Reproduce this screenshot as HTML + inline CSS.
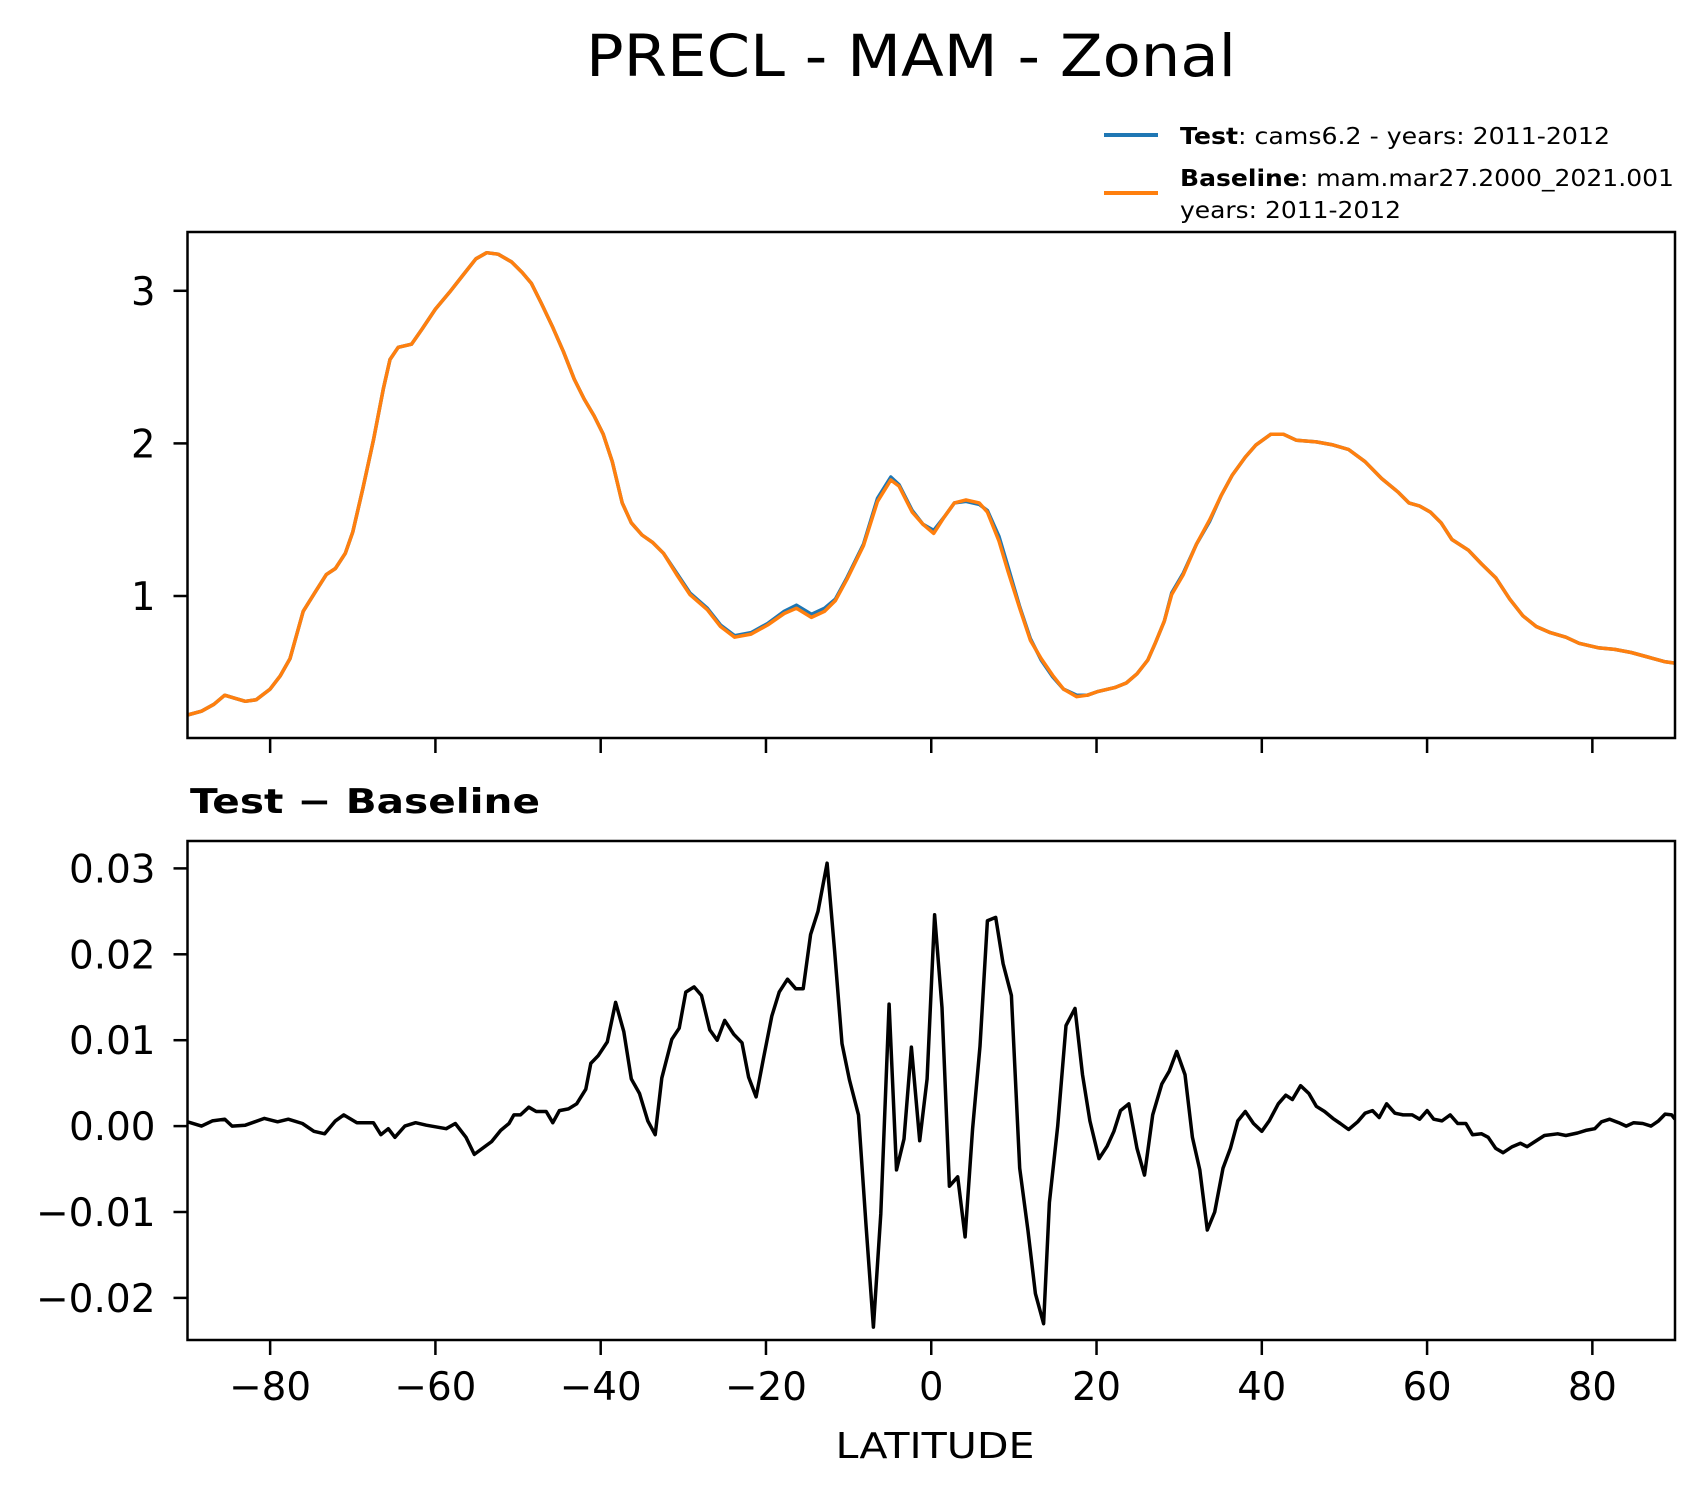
<!DOCTYPE html>
<html><head><meta charset="utf-8"><style>
html,body{margin:0;padding:0;background:#fff;}
svg{display:block;font-family:"DejaVu Sans","Liberation Sans",sans-serif;}
</style></head><body>
<svg id="fig" width="1704" height="1496" viewBox="0 0 1704 1496">
<rect x="0" y="0" width="1704" height="1496" fill="#fff"/>
<text x="911" y="76" font-size="58" text-anchor="middle" textLength="650" lengthAdjust="spacingAndGlyphs">PRECL - MAM - Zonal</text>
<g>
<line x1="1104" y1="135" x2="1158" y2="135" stroke="#1f77b4" stroke-width="4"/>
<text x="1180" y="144" font-size="23" textLength="430" lengthAdjust="spacingAndGlyphs"><tspan font-weight="bold">Test</tspan>: cams6.2 - years: 2011-2012</text>
<line x1="1104" y1="193" x2="1158" y2="193" stroke="#ff7f0e" stroke-width="4"/>
<text x="1180" y="186" font-size="23" textLength="494" lengthAdjust="spacingAndGlyphs"><tspan font-weight="bold">Baseline</tspan>: mam.mar27.2000_2021.001</text>
<text x="1180" y="218" font-size="23" textLength="221" lengthAdjust="spacingAndGlyphs">years: 2011-2012</text>
</g>
<g id="top"></g>
<g id="bot"></g>
<text x="190" y="813" font-size="34" font-weight="bold" textLength="350" lengthAdjust="spacingAndGlyphs">Test − Baseline</text>
<text x="935" y="1458" font-size="36" text-anchor="middle" textLength="199" lengthAdjust="spacingAndGlyphs">LATITUDE</text>
</svg>
<script>
const baseLat=[-90,-88.3,-86.8,-85.5,-84.3,-83,-81.7,-80,-78.8,-77.6,-76,-74.5,-73.2,-72.1,-70.9,-70,-68.8,-67.5,-66.3,-65.5,-64.5,-62.9,-61.6,-60,-58.3,-56.7,-55.1,-53.8,-52.4,-50.8,-49.5,-48.4,-47.2,-45.8,-44.5,-43.2,-42,-40.8,-39.7,-38.6,-37.4,-36.3,-35,-33.7,-32.4,-30.8,-29.2,-27.1,-25.5,-23.8,-21.8,-19.8,-17.8,-16.3,-14.5,-12.9,-11.6,-10.2,-8.2,-6.5,-4.9,-3.9,-2.3,-1,0.3,1.6,2.8,4.2,5.8,6.8,8.2,9.3,10.7,12,13.3,14.7,16,17.6,18.9,20.2,22.2,23.6,24.9,26.2,27.1,28.2,29.1,30.5,32.1,33.7,35.1,36.4,38,39.3,41.1,42.6,44.2,46.6,48.6,50.5,52.5,54.5,56.5,57.8,59.1,60.4,61.7,63,65,66.6,68.3,70,71.6,73.2,74.9,76.8,78.4,80.8,82.7,84.7,86.7,88.7,90];
const baseVal=[0.22,0.245,0.29,0.35,0.33,0.31,0.32,0.39,0.475,0.59,0.9,1.03,1.14,1.18,1.28,1.42,1.7,2.02,2.36,2.55,2.63,2.65,2.75,2.88,2.99,3.1,3.21,3.25,3.24,3.19,3.12,3.05,2.92,2.76,2.6,2.42,2.29,2.18,2.06,1.88,1.61,1.48,1.4,1.35,1.28,1.14,1.01,0.91,0.8,0.73,0.75,0.81,0.885,0.92,0.86,0.9,0.97,1.11,1.33,1.62,1.76,1.72,1.55,1.47,1.41,1.52,1.61,1.63,1.61,1.55,1.36,1.16,0.92,0.71,0.59,0.48,0.39,0.34,0.35,0.375,0.4,0.43,0.49,0.58,0.69,0.835,1.01,1.14,1.34,1.5,1.66,1.79,1.91,1.99,2.06,2.06,2.02,2.01,1.99,1.96,1.88,1.77,1.68,1.61,1.59,1.55,1.48,1.37,1.3,1.21,1.12,0.98,0.87,0.8,0.76,0.73,0.69,0.66,0.65,0.63,0.6,0.57,0.56];
const testVal=[0.22,0.245,0.29,0.35,0.33,0.31,0.32,0.39,0.475,0.59,0.9,1.03,1.14,1.18,1.28,1.42,1.7,2.02,2.36,2.55,2.63,2.65,2.75,2.88,2.99,3.1,3.21,3.25,3.24,3.19,3.12,3.05,2.92,2.76,2.6,2.42,2.29,2.18,2.06,1.88,1.61,1.48,1.4,1.35,1.28,1.15,1.02,0.92,0.81,0.74,0.76,0.82,0.9,0.94,0.88,0.92,0.98,1.12,1.34,1.64,1.78,1.73,1.56,1.47,1.43,1.52,1.61,1.62,1.6,1.56,1.39,1.19,0.93,0.72,0.58,0.47,0.39,0.35,0.35,0.375,0.4,0.43,0.49,0.58,0.69,0.835,1.02,1.15,1.34,1.49,1.66,1.79,1.91,1.99,2.06,2.06,2.02,2.01,1.99,1.96,1.88,1.77,1.68,1.61,1.59,1.55,1.48,1.37,1.3,1.21,1.12,0.98,0.87,0.8,0.76,0.73,0.69,0.66,0.65,0.63,0.6,0.57,0.56];
const diffLat=[-90,-88.3,-87,-85.5,-84.6,-83,-80.7,-79.1,-77.8,-76.1,-74.7,-73.4,-72.1,-71.1,-69.5,-67.5,-66.6,-65.7,-64.9,-63.7,-62.4,-61.1,-58.7,-57.6,-56.3,-55.3,-53.2,-52.1,-51.1,-50.5,-49.7,-48.7,-47.8,-46.6,-45.8,-45,-43.9,-42.9,-41.8,-41.2,-40.3,-39.2,-38.2,-37.2,-36.3,-35.3,-34.3,-33.4,-32.6,-31.4,-30.5,-29.7,-28.7,-27.8,-26.8,-25.9,-25,-23.9,-22.9,-22.1,-21.2,-20.3,-19.3,-18.4,-17.4,-16.4,-15.5,-14.6,-13.7,-12.6,-11.7,-10.8,-9.9,-8.8,-7.9,-7,-6.1,-5.1,-4.2,-3.3,-2.4,-1.4,-0.5,0.4,1.3,2.2,3.2,4.1,5,5.9,6.8,7.8,8.7,9.7,10.7,11.7,12.6,13.6,14.3,15.3,16.3,17.4,18.3,19.2,20.3,21.3,22.1,22.9,23.9,24.9,25.8,26.8,27.9,28.8,29.7,30.7,31.6,32.5,33.4,34.3,35.3,36.2,37.1,38,39,40,40.9,42,42.9,43.7,44.7,45.7,46.6,47.6,48.6,49.5,50.5,51.6,52.5,53.4,54.2,55.1,56.1,57.1,58.2,59.1,60,60.8,61.8,62.8,63.7,64.7,65.5,66.6,67.4,68.3,69.2,70.3,71.3,72.1,72.9,74.2,75.8,76.8,78.2,79.2,80.3,81.1,82.1,83.2,84.1,85,86.1,87.1,88,88.8,89.6,90];
const diffVal=[0.0005,0,0.0006,0.0008,0,0.0001,0.0009,0.0005,0.0008,0.0003,-0.0006,-0.0009,0.0006,0.0013,0.0004,0.0004,-0.001,-0.0003,-0.0013,0,0.0004,0.0001,-0.0003,0.0003,-0.0013,-0.0033,-0.0018,-0.0005,0.0003,0.0013,0.0013,0.0022,0.0017,0.0017,0.0004,0.0018,0.002,0.0026,0.0043,0.0073,0.0082,0.0098,0.0144,0.011,0.0055,0.0038,0.0006,-0.001,0.0056,0.0101,0.0114,0.0156,0.0162,0.0152,0.0112,0.01,0.0123,0.0107,0.0097,0.0057,0.0034,0.0079,0.0128,0.0156,0.0171,0.016,0.016,0.0223,0.025,0.0306,0.0204,0.0096,0.0054,0.0013,-0.0115,-0.0234,-0.0102,0.0142,-0.0051,-0.0015,0.0092,-0.0017,0.0055,0.0246,0.0138,-0.007,-0.0059,-0.0129,-0.0003,0.0093,0.0239,0.0243,0.0189,0.0152,-0.0049,-0.0121,-0.0195,-0.023,-0.0089,0,0.0117,0.0137,0.006,0.0006,-0.0038,-0.0023,-0.0006,0.0018,0.0026,-0.0026,-0.0057,0.0013,0.0049,0.0064,0.0087,0.006,-0.0013,-0.0051,-0.0121,-0.01,-0.0049,-0.0026,0.0006,0.0017,0.0003,-0.0006,0.0006,0.0026,0.0036,0.0031,0.0047,0.0038,0.0023,0.0017,0.0009,0.0003,-0.0004,0.0005,0.0015,0.0018,0.001,0.0026,0.0015,0.0013,0.0013,0.0008,0.0018,0.0008,0.0006,0.0013,0.0003,0.0003,-0.001,-0.0009,-0.0013,-0.0026,-0.0031,-0.0024,-0.002,-0.0024,-0.0019,-0.0011,-0.0009,-0.0011,-0.0008,-0.0005,-0.0003,0.0005,0.0008,0.0004,0,0.0004,0.0003,0,0.0006,0.0014,0.0013,0.0008];
const xTicks=[-80,-60,-40,-20,0,20,40,60,80];
const xTickLabels=["−80","−60","−40","−20","0","20","40","60","80"];
const topYTicks=[1,2,3];
const topYTickLabels=["1","2","3"];
const botYTicks=[-0.02,-0.01,0,0.01,0.02,0.03];
const botYTickLabels=["−0.02","−0.01","0.00","0.01","0.02","0.03"];

const NS="http://www.w3.org/2000/svg";
const L=187.5,R=1675;
function sx(v){return L+(v+90)/180*(R-L);}
function topY(v){return 596-(v-1)*152.6;}
function botY(v){return 1126.1-v*8590;}
function mk(tag,attrs,parent){const e=document.createElementNS(NS,tag);for(const k in attrs)e.setAttribute(k,attrs[k]);parent.appendChild(e);return e;}
function labelWidth(s){let w=0;for(const c of s){w+= c==="."?13:(c==="−"?33:24.5);}return w;}

function panel(g,top,bottom,yf,ticks,labels,showXLabels,prefix){
  const clipId=prefix+"-clip";
  const defs=mk("defs",{},g);
  const cp=mk("clipPath",{id:clipId},defs);
  mk("rect",{x:L,y:top,width:R-L,height:bottom-top},cp);
  ticks.forEach((t,i)=>{
    const y=yf(t);
    const tk=mk("line",{x1:L-14,y1:y,x2:L,y2:y,stroke:"#000","stroke-width":2.5},g);
    
    
    const w=labelWidth(labels[i]);
    const tx=mk("text",{x:L-32-w,y:y+14,"font-size":39,textLength:w,lengthAdjust:"spacingAndGlyphs"},g);
    tx.textContent=labels[i];
    
    
  });
  xTicks.forEach((t,i)=>{
    const x=sx(t);
    const tk=mk("line",{x1:x,y1:bottom,x2:x,y2:bottom+15,stroke:"#000","stroke-width":2.5},g);
    
    
    if(showXLabels){
      const w=labelWidth(xTickLabels[i]);
      const tx=mk("text",{x:x-w/2,y:bottom+60,"font-size":39,textLength:w,lengthAdjust:"spacingAndGlyphs"},g);
      tx.textContent=xTickLabels[i];
      
      
    }
  });
  return clipId;
}
function line(g,lat,val,yf,color,clip,name){
  const d=lat.map((la,i)=>(i?"L":"M")+sx(la).toFixed(1)+","+yf(val[i]).toFixed(1)).join("");
  const p=mk("path",{d:d,fill:"none",stroke:color,"stroke-width":3.5,"stroke-linejoin":"round","clip-path":"url(#"+clip+")"},g);
  
  
}
function frame(g,top,bottom,prefix){
  const r=mk("rect",{x:L,y:top,width:R-L,height:bottom-top,fill:"none",stroke:"#000","stroke-width":2.5},g);
  
  
}
const gt=document.getElementById("top");
const c1=panel(gt,232,738,topY,topYTicks,topYTickLabels,false,"top");
line(gt,baseLat,testVal,topY,"#1f77b4",c1,"test-line");
line(gt,baseLat,baseVal,topY,"#ff7f0e",c1,"baseline-line");
frame(gt,232,738,"top");
const gb=document.getElementById("bot");
const c2=panel(gb,841,1340,botY,botYTicks,botYTickLabels,true,"diff");
line(gb,diffLat,diffVal,botY,"#000",c2,"difference-line");
frame(gb,841,1340,"diff");
</script>
</body></html>
